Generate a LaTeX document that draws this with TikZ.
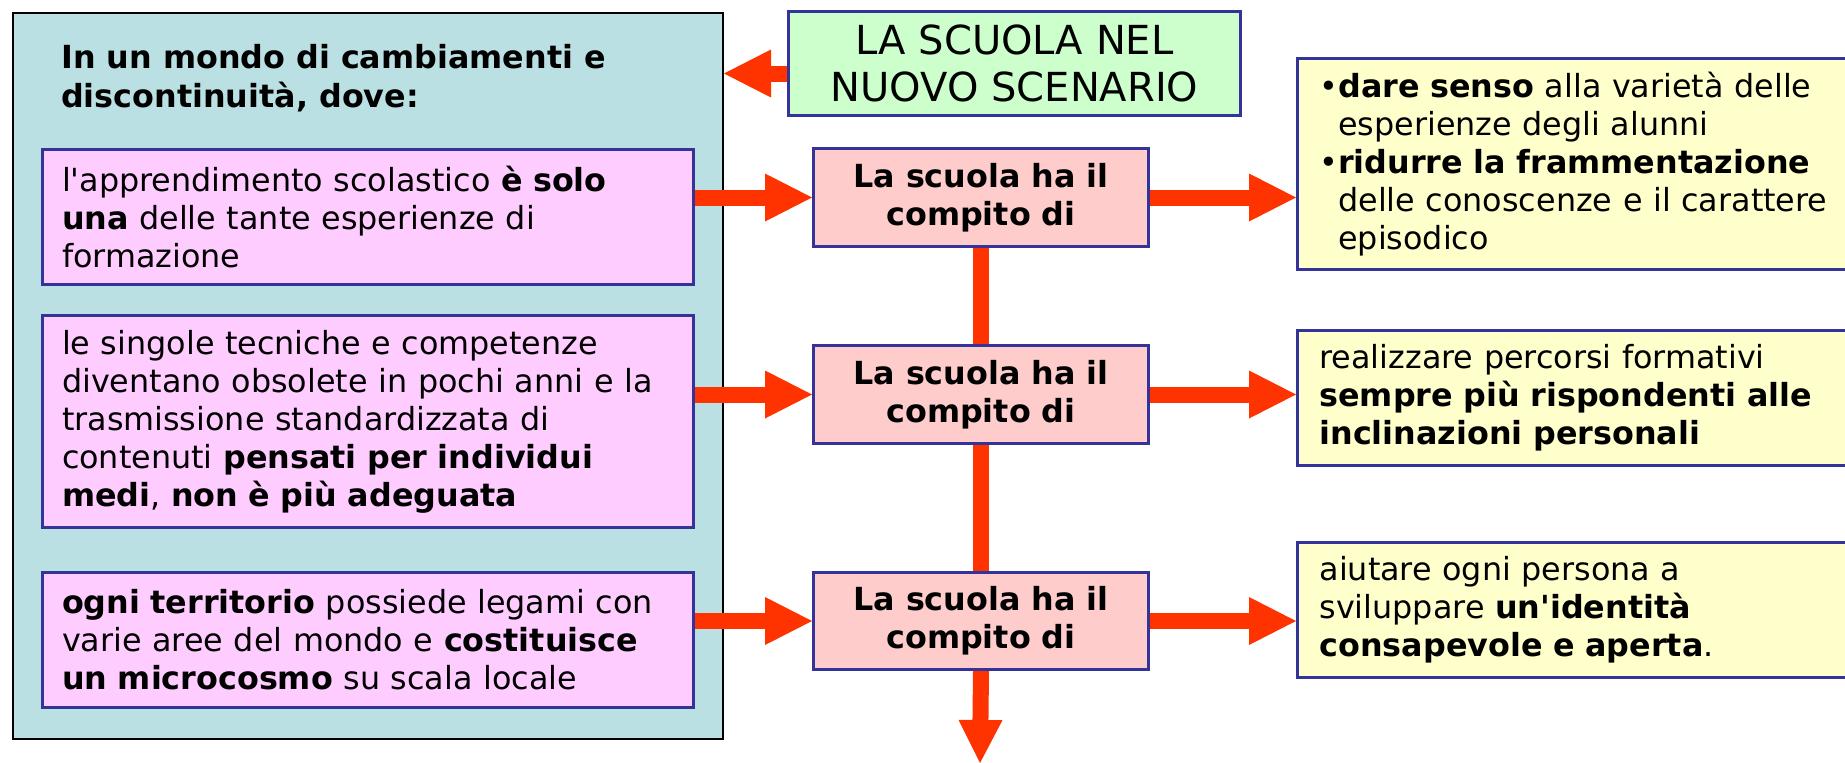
\documentclass[tikz,border=0pt]{standalone}
\usepackage{fontspec}
\setmainfont{DejaVu Sans}[Ligatures=TeXOff]
\usetikzlibrary{arrows.meta}
\usepackage{xcolor}
\definecolor{tealbg}{HTML}{BBE0E3}
\definecolor{pinkbg}{HTML}{FFCCFF}
\definecolor{rosebg}{HTML}{FFCCCC}
\definecolor{greenbg}{HTML}{CCFFCC}
\definecolor{yellowbg}{HTML}{FFFFCC}
\definecolor{boxblue}{HTML}{333399}
\definecolor{arrowred}{HTML}{FF3300}

\begin{document}
\begin{tikzpicture}[x=1pt, y=-1pt,
    txt/.style={font=\fontsize{31.8}{38}\selectfont},
    framebox/.style={draw=boxblue, line width=3pt, anchor=north west, txt},
    reason/.style={framebox, fill=pinkbg, align=left, text width=612pt, inner xsep=19.5pt},
    task/.style={framebox, fill=rosebg, align=center, minimum width=335pt, minimum height=98pt, font=\fontsize{31.8}{38}\selectfont\bfseries},
    goal/.style={framebox, fill=yellowbg, align=left, text width=515pt, inner xsep=22pt},
    bigarrow/.style={draw=arrowred, line width=16pt, -{Triangle[length=47pt, width=48pt, line width=0pt]}},
    stem/.style={draw=arrowred, line width=16pt}]
    \path[use as bounding box, clip] (0,0) rectangle (1845,763);
    % left panel
    \node[draw=black, line width=2pt, fill=tealbg, anchor=north west, minimum width=710pt, minimum height=726pt] (world) at (12,12) {};
    \node[anchor=north west, inner sep=0pt, align=left, font=\fontsize{31.8}{39}\selectfont\bfseries] (intro) at (61,44) {In un mondo di cambiamenti e\\discontinuità, dove:};
    \node[reason, minimum height=135pt] (r1) at (41,148) {l'apprendimento scolastico \textbf{è solo}\\\textbf{una} delle tante esperienze di\\formazione};
    \node[reason, minimum height=212pt] (r2) at (41,314) {le singole tecniche e competenze\\diventano obsolete in pochi anni e la\\trasmissione standardizzata di\\contenuti \textbf{pensati per individui}\\\textbf{medi}, \textbf{non è più adeguata}};
    \node[reason, minimum height=135pt] (r3) at (41,571) {\textbf{ogni territorio} possiede legami con\\varie aree del mondo e \textbf{costituisce}\\\textbf{un microcosmo} su scala locale};
    % title
    \node[framebox, fill=greenbg, align=center, minimum width=452pt, minimum height=104pt, font=\fontsize{40}{47}\selectfont] (title) at (787,10) {LA SCUOLA NEL\\NUOVO SCENARIO};
    % middle column
    \node[task] (t1) at (812,147) {La scuola ha il\\compito di};
    \node[task] (t2) at (812,344) {La scuola ha il\\compito di};
    \node[task, minimum height=97pt] (t3) at (812,571) {La scuola ha il\\compito di};
    % right column
    \node[goal, minimum height=211pt] (g1) at (1296,57) {\textbullet\textbf{dare senso} alla varietà delle\\\phantom{\textbullet}esperienze degli alunni\\\textbullet\textbf{ridurre la frammentazione}\\\phantom{\textbullet}delle conoscenze e il carattere\\\phantom{\textbullet}episodico};
    \node[goal, minimum height=135pt] (g2) at (1296,329) {realizzare percorsi formativi\\\textbf{sempre più rispondenti alle}\\\textbf{inclinazioni personali}};
    \node[goal, minimum height=135pt] (g3) at (1296,541) {aiutare ogni persona a\\sviluppare \textbf{un'identità}\\\textbf{consapevole e aperta}.};
    \coordinate (bottomend) at (980,763);

    % arrows
    \draw[bigarrow] ([yshift=-10pt]title.west) -- ([yshift=-10pt]title.west -| world.east);
    \draw[bigarrow] (r1.east |- t1.west) -- (t1.west);
    \draw[bigarrow] (r2.east |- t2.west) -- (t2.west);
    \draw[bigarrow] (r3.east |- t3.west) -- (t3.west);
    \draw[bigarrow] (t1.east) -- (t1.east -| g1.west);
    \draw[bigarrow] (t2.east) -- (t2.east -| g2.west);
    \draw[bigarrow] (t3.east) -- (t3.east -| g3.west);
    \draw[stem] (t1.south) -- (t2.north);
    \draw[stem] (t2.south) -- (t3.north);
    \draw[stem, -{Triangle[length=43pt, width=44pt, line width=0pt]}] (t3.south) -- (bottomend);
\end{tikzpicture}
\end{document}
